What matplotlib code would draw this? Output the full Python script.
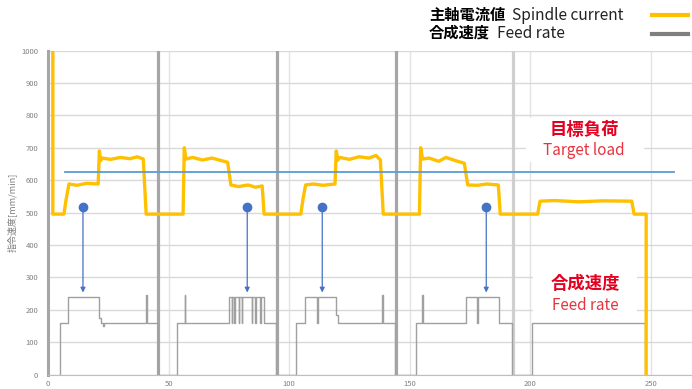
import numpy as np
import matplotlib
matplotlib.use('Agg')
import matplotlib.pyplot as plt
from matplotlib.patches import Rectangle

plt.rcParams['font.family'] = ['Noto Sans CJK JP', 'DejaVu Sans']

# spindle current (yellow), breakpoints
spindle_x = [2, 2, 6.6, 7.5, 8.7, 12, 16, 20.8, 21.3, 21.8, 22.5, 26, 30, 34, 37, 39.5, 40.7,
             56, 56.5, 57.2, 60, 64, 68, 72, 74.5, 75.8, 79, 83, 86, 88.8, 89.6,
             104.8, 105.8, 106.8, 110, 114, 119, 119.5, 120.2, 121, 125, 129, 133, 136, 137.8, 139,
             154, 154.5, 155.3, 158, 162, 165, 169, 172.6, 174, 178, 182, 186.7, 187.5,
             203, 204, 210, 220, 230, 242, 243, 248, 248]
spindle_y = [1000, 495, 495, 540, 588, 584, 590, 588, 690, 660, 668, 664, 670, 666, 672, 665, 495,
             495, 700, 665, 670, 662, 668, 660, 655, 585, 580, 585, 578, 582, 495,
             495, 545, 585, 588, 584, 588, 690, 662, 670, 664, 672, 668, 676, 662, 495,
             495, 700, 665, 668, 658, 670, 660, 652, 585, 584, 588, 585, 495,
             495, 535, 537, 533, 536, 535, 495, 495, 0]

# feed rate (gray)
feed_x = [5, 5, 8.3, 8.3, 21.2, 21.2, 21.9, 21.9, 22.9, 22.9, 23.1, 23.1, 40.7, 40.7, 40.9, 40.9, 45.6, 45.6,
          53.6, 53.6, 56.8, 56.8, 57, 57, 75, 75, 76.2, 76.2, 76.4, 76.4, 77.2, 77.2, 77.4, 77.4,
          79, 79, 79.2, 79.2, 80.4, 80.4, 80.6, 80.6, 84.5, 84.5, 84.7, 84.7, 85.9, 85.9, 86.1, 86.1,
          88, 88, 88.2, 88.2, 89.6, 89.6, 94.7, 94.7,
          103, 103, 106.6, 106.6, 111.6, 111.6, 111.8, 111.8, 119.5, 119.5, 120.2, 120.2,
          138.6, 138.6, 138.8, 138.8, 144, 144,
          152.7, 152.7, 155, 155, 155.3, 155.3, 173.4, 173.4, 178, 178, 178.2, 178.2, 187, 187, 192.5, 192.5,
          200.8, 200.8, 247.7, 247.7]
feed_y = [0, 160, 160, 240, 240, 175, 175, 160, 160, 150, 150, 160, 160, 245, 245, 160, 160, 0,
          0, 160, 160, 245, 245, 160, 160, 240, 240, 160, 160, 240, 240, 160, 160, 240,
          240, 160, 160, 240, 240, 160, 160, 240, 240, 160, 160, 240, 240, 160, 160, 240,
          240, 160, 160, 240, 240, 160, 160, 0,
          0, 160, 160, 240, 240, 160, 160, 240, 240, 185, 185, 160,
          160, 245, 245, 160, 160, 0,
          0, 160, 160, 245, 245, 160, 160, 240, 240, 160, 160, 240, 240, 160, 160, 0,
          0, 160, 160, 0]

target_load = 625
target_x = [7, 259.4]

arrow_x = [14.5, 82.6, 113.7, 181.7]
arrow_top = 518
arrow_bottom = 253

separator_x = [45.5, 94.8, 144.2, 192.7]
separator_c = ['#A6A6A6', '#A6A6A6', '#A6A6A6', '#CFCFCF']

fig = plt.figure(figsize=(6.92, 3.89), dpi=100)
ax = fig.add_axes([48 / 692, 14.5 / 389, 644 / 692, 324 / 389])

ax.set_xlim(0, 267)
ax.set_ylim(0, 1000)
ax.set_yticks(np.arange(0, 1001, 100))
ax.set_xticks(np.arange(0, 251, 50))
ax.tick_params(length=0, labelsize=5.5, labelcolor='#808080')
ax.tick_params(axis='y', pad=7)
ax.tick_params(axis='x', pad=4)
ax.grid(axis='y', color='#D9D9D9', lw=1, zorder=0)
ax.grid(axis='x', color='#E3E3E3', lw=1, zorder=0)
ax.set_axisbelow(True)
for s in ['top', 'right']:
    ax.spines[s].set_visible(False)
ax.spines['left'].set_color('#A6A6A6')
ax.spines['left'].set_linewidth(2.2)
ax.spines['bottom'].set_color('#BFBFBF')

for xs, c in zip(separator_x, separator_c):
    ax.axvline(xs, color=c, lw=2.3, zorder=1)

# label boxes
ax.add_patch(Rectangle((198.2, 656), 48.9, 136, facecolor='white', edgecolor='none', zorder=1.5))
ax.add_patch(Rectangle((201.2, 162), 43, 154, facecolor='white', edgecolor='none', zorder=1.5))

ax.plot(feed_x, feed_y, color='#A0A0A0', lw=1.0, zorder=2)
ax.plot(spindle_x, spindle_y, color='#FFC000', lw=2.4, zorder=3)
ax.plot(target_x, [target_load, target_load], color='#5B9BD5', lw=1.3, zorder=4)

for x in arrow_x:
    ax.annotate('', xy=(x, arrow_bottom), xytext=(x, arrow_top),
                arrowprops=dict(arrowstyle='-|>', color='#4472C4', lw=0.9,
                                mutation_scale=7, shrinkA=0, shrinkB=0), zorder=5)
ax.plot(arrow_x, [arrow_top] * len(arrow_x), 'o', color='#4472C4', ms=6, zorder=6)

ax.text(222.2, 755, '目標負荷', color='#E60020', fontsize=12.5, fontweight='bold',
        ha='center', va='center', zorder=7)
ax.text(222.2, 690, 'Target load', color='#E8333F', fontsize=11,
        ha='center', va='center', zorder=7)
ax.text(222.6, 279, '合成速度', color='#E60020', fontsize=12.5, fontweight='bold',
        ha='center', va='center', zorder=7)
ax.text(222.6, 214, 'Feed rate', color='#E8333F', fontsize=11,
        ha='center', va='center', zorder=7)

fig.text(12 / 692, 1 - 212 / 389, '指令速度[mm/min]', rotation=90, fontsize=6.5,
         color='#808080', ha='center', va='center')

# legend at top right
fig.text(429 / 692, 1 - 15 / 389, '主軸電流値', fontsize=11, fontweight='bold', va='center')
fig.text(512 / 692, 1 - 15 / 389, 'Spindle current', fontsize=11.2, va='center', color='#222222')
fig.text(429 / 692, 1 - 33 / 389, '合成速度', fontsize=11, fontweight='bold', va='center')
fig.text(497 / 692, 1 - 33 / 389, 'Feed rate', fontsize=11.2, va='center', color='#222222')
fig.add_artist(plt.Line2D([652 / 692, 688 / 692], [1 - 15 / 389] * 2, color='#FFC000', lw=3))
fig.add_artist(plt.Line2D([652 / 692, 688 / 692], [1 - 34 / 389] * 2, color='#7F7F7F', lw=3))

fig.savefig('out.png', dpi=100)
